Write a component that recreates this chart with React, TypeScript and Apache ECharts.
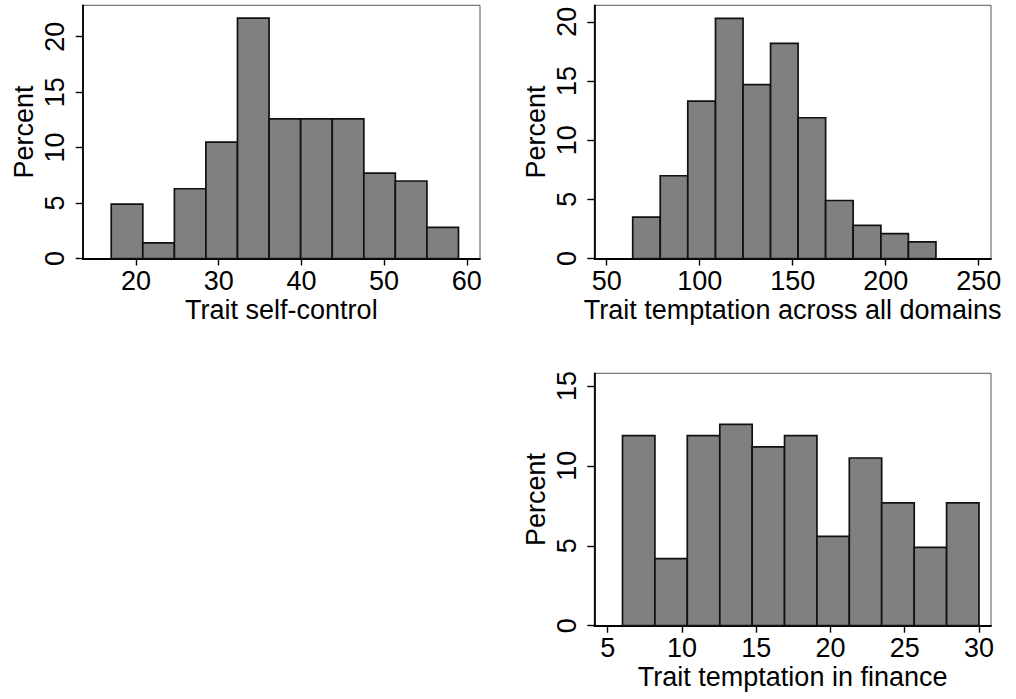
import React, { useEffect, useRef } from 'react';
import * as echarts from 'echarts';

// bin edges and percent heights
const selfControlEdges = [17, 20.82, 24.64, 28.45, 32.27, 36.09, 39.91, 43.73, 47.55, 51.36, 55.18, 59];
const selfControlPct = [4.9, 1.4, 6.29, 10.49, 21.68, 12.59, 12.59, 12.59, 7.69, 6.99, 2.8];

const temptAllEdges = [64, 78.8, 93.6, 108.5, 123.3, 138.1, 152.9, 167.7, 182.5, 197.4, 212.2, 227];
const temptAllPct = [3.5, 6.99, 13.29, 20.28, 14.69, 18.18, 11.89, 4.9, 2.8, 2.1, 1.4];

const financeEdges = [6, 8.18, 10.36, 12.55, 14.73, 16.91, 19.09, 21.27, 23.45, 25.64, 27.82, 30];
const financePct = [11.89, 4.2, 11.89, 12.59, 11.19, 11.89, 5.59, 10.49, 7.69, 4.9, 7.69];

const selfControlTicks = [20, 30, 40, 50, 60];
const temptAllTicks = [50, 100, 150, 200, 250];
const financeTicks = [5, 10, 15, 20, 25, 30];
const pctTicksTop = [0, 5, 10, 15, 20];
const pctTicksBottom = [0, 5, 10, 15];

const FONT = 'Liberation Sans, Arial, sans-serif';
const FS = 27;

const toBins = (edges: number[], pct: number[]) =>
  pct.map((p, i) => [edges[i], edges[i + 1], p]);

const xAxisOf = (idx: number, name: string, min: number, max: number, ticks: number[]) => ({
  type: 'value',
  gridIndex: idx,
  min,
  max,
  name,
  nameLocation: 'middle',
  nameGap: 38,
  nameTextStyle: { fontSize: FS, color: '#000', fontFamily: FONT },
  axisLine: { show: true, onZero: false, lineStyle: { color: '#000', width: 1.8 } },
  axisTick: { show: true, length: 7, lineStyle: { color: '#000', width: 1.4 }, customValues: ticks },
  axisLabel: { fontSize: FS, color: '#000', fontFamily: FONT, margin: 9, customValues: ticks },
  splitLine: { show: false },
});

const yAxisOf = (idx: number, max: number, ticks: number[]) => ({
  type: 'value',
  gridIndex: idx,
  min: 0,
  max,
  name: 'Percent',
  nameLocation: 'middle',
  nameRotate: 90,
  nameGap: 45,
  nameTextStyle: { fontSize: FS, color: '#000', fontFamily: FONT },
  axisLine: { show: true, onZero: false, lineStyle: { color: '#000', width: 1.8 } },
  axisTick: { show: true, length: 7, lineStyle: { color: '#000', width: 1.4 }, customValues: ticks },
  axisLabel: { fontSize: FS, color: '#000', fontFamily: FONT, margin: 14, rotate: 90, customValues: ticks },
  splitLine: { show: false },
});

const histSeries = (idx: number, data: number[][]) => ({
  type: 'custom',
  xAxisIndex: idx,
  yAxisIndex: idx,
  encode: { x: [0, 1], y: 2 },
  data,
  renderItem: (_params: any, api: any) => {
    const a = api.coord([api.value(0), api.value(2)]);
    const b = api.coord([api.value(1), 0]);
    return {
      type: 'rect',
      shape: { x: a[0], y: a[1], width: b[0] - a[0], height: b[1] - a[1] },
      style: { fill: '#808080', stroke: '#111', lineWidth: 1.7 },
    };
  },
});

export default function App() {
  const chartRef = useRef<HTMLDivElement>(null);

  useEffect(() => {
    const chart = echarts.init(chartRef.current, null, { renderer: 'svg' });
    const gridBase = { show: true, borderColor: '#555', borderWidth: 1, backgroundColor: '#fff' };
    const option = {
      animation: false,
      backgroundColor: '#fff',
      textStyle: { fontFamily: FONT },
      grid: [
        { ...gridBase, left: 82.7, top: 5.3, width: 397.3, height: 253.2 },
        { ...gridBase, left: 594.3, top: 5.3, width: 396.7, height: 253.2 },
        { ...gridBase, left: 594.3, top: 373.3, width: 396.7, height: 252.4 },
      ],
      xAxis: [
        xAxisOf(0, 'Trait self-control', 13.55, 61.6, selfControlTicks),
        xAxisOf(1, 'Trait temptation across all domains', 43.35, 256.6, temptAllTicks),
        xAxisOf(2, 'Trait temptation in finance', 4.1, 30.81, financeTicks),
      ],
      yAxis: [
        yAxisOf(0, 22.83, pctTicksTop),
        yAxisOf(1, 21.39, pctTicksTop),
        yAxisOf(2, 15.79, pctTicksBottom),
      ],
      series: [
        histSeries(0, toBins(selfControlEdges, selfControlPct)),
        histSeries(1, toBins(temptAllEdges, temptAllPct)),
        histSeries(2, toBins(financeEdges, financePct)),
      ],
    };
    chart.setOption(option as any);
    return () => chart.dispose();
  }, []);

  return (
    <div
      ref={chartRef}
      style={{ position: 'fixed', left: 0, top: 0, width: 1016, height: 699, background: '#fff' }}
    />
  );
}
